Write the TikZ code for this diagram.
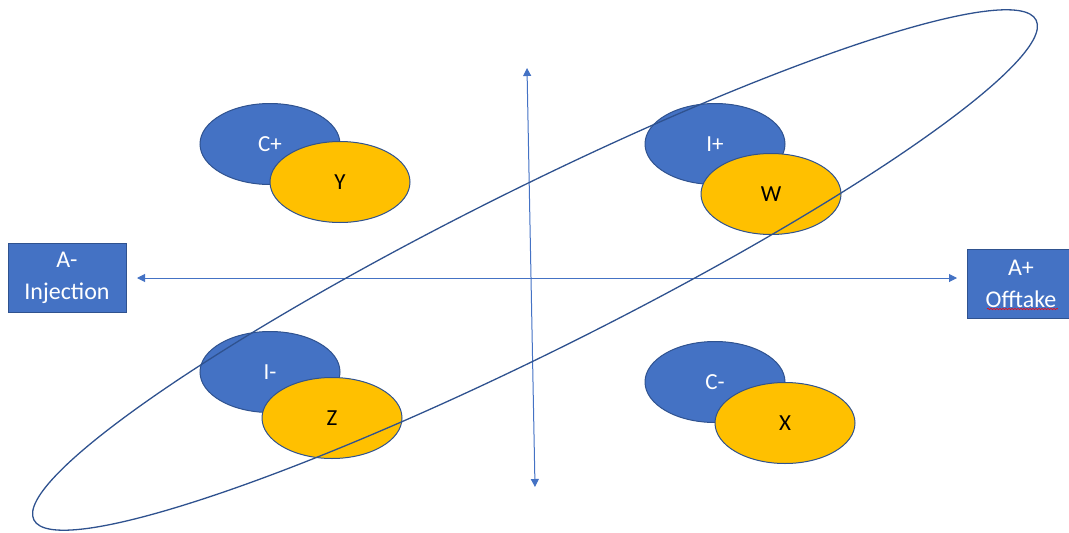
\documentclass[tikz,border=0pt]{standalone}
\usepackage{fontspec}
\setmainfont{Carlito}
\usetikzlibrary{arrows.meta,shapes.geometric,decorations.pathmorphing}
\definecolor{obl}{HTML}{4472C4}
\definecolor{odk}{HTML}{2F528F}
\definecolor{oye}{HTML}{FFC000}
\begin{document}
\begin{tikzpicture}[x=1pt,y=-1pt,
  blob/.style={ellipse, draw=odk, line width=1pt, minimum width=140pt, minimum height=81pt, inner sep=0pt, font=\fontsize{23}{28}\selectfont},
  bluebl/.style={blob, fill=obl, text=white},
  yelbl/.style={blob, fill=oye, text=black},
  abox/.style={draw=odk, fill=obl, text=white, line width=1pt, align=center, inner sep=0pt, minimum height=69pt, font=\fontsize{24}{32}\selectfont},
  axisline/.style={draw=obl, line width=1pt, {Triangle[width=8pt,length=8pt]}-{Triangle[width=8pt,length=8pt]}},
  bigloop/.style={ellipse, draw=odk, line width=1.3pt, inner sep=0pt, minimum width=1120pt, minimum height=162pt, rotate=26.5}
]
\useasboundingbox (0,0) rectangle (1069,533);
% quadrant pairs
\node[bluebl] (cp) at (270,144) {C+};
\node[yelbl]  (y)  at (340,182) {Y};
\node[bluebl] (ip) at (715,144) {I+};
\node[yelbl]  (w)  at (771,194) {W};
\node[bluebl] (im) at (270,372) {I-};
\node[yelbl]  (z)  at (332,418) {Z};
\node[bluebl] (cm) at (715,382) {C-};
\node[yelbl]  (x)  at (785,423) {X};
% boxes
\node[abox, minimum width=118pt] (am) at (67,277.5) {A-\\Injection};
\node[abox, minimum width=108pt] (ap) at (1021,283.5) {A+\\Offtake};
\coordinate (sq1) at (987,309);
\coordinate (sq2) at (1058,309);
\draw[red, line width=0.6pt, decorate, decoration={snake, amplitude=0.7pt, segment length=3pt}] (sq1) -- (sq2);
% axes
\coordinate (hl) at (137,278);
\coordinate (hr) at (957,278);
\coordinate (vt) at (527,68);
\coordinate (vb) at (535,487);
\draw[axisline] (hl) -- (hr);
\draw[axisline] (vt) -- (vb);
% big loop
\node[bigloop] (loop) at (535,270) {};
\end{tikzpicture}
\end{document}
